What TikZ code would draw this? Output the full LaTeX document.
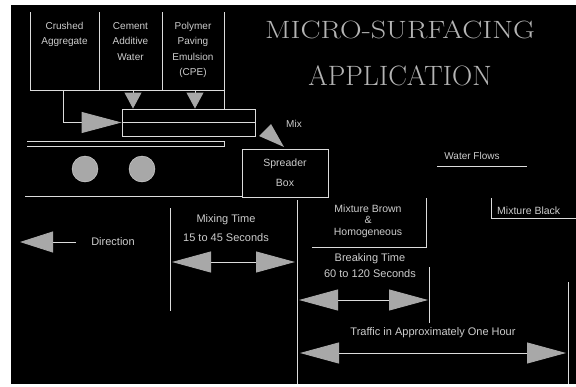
\documentclass[tikz,border=0pt]{standalone}
\usepackage{fontspec}
\setsansfont{Liberation Sans}
\usetikzlibrary{arrows.meta,calc}
\definecolor{ink}{RGB}{220,220,220}
\definecolor{txtgray}{RGB}{205,205,205}
\definecolor{headgray}{RGB}{168,168,168}
\definecolor{titlegray}{RGB}{180,180,180}
\tikzset{
	wire/.style={draw=ink,line width=0.9pt},
	lbl/.style={text=txtgray,font=\sffamily\fontsize{11}{19}\selectfont,align=center,inner sep=0pt},
	bintext/.style={text=txtgray,font=\sffamily\fontsize{10}{15.5}\selectfont,align=center,anchor=north,inner sep=0pt},
	bighead/.tip={Triangle[length=39pt,width=21pt,color=headgray]},
	timearrow/.style={wire,bighead-bighead},
	wheel/.style={circle,fill=headgray,draw=ink,line width=0.4pt,minimum size=26pt,inner sep=0pt},
}
\newcommand{\Bin}[4]{%
	\draw[wire] (#2,12) -- (#2,90) -- (#3,90) -- (#3,12);
	\pgfmathsetmacro{\XM}{(#2+#3)/2}%
	\node[bintext] (#1) at (\XM,22) {#4};%
}
\begin{document}
\begin{tikzpicture}[x=1pt,y=-1pt]
	% fond
	\fill[white] (0,0) rectangle (576,386);
	\fill[black] (11,5) rectangle (576,384);
	\useasboundingbox (0,0) rectangle (576,386);

	% titre
	\node[text=titlegray,font=\fontsize{25}{28}\selectfont,inner sep=0pt,xscale=1.2] (title) at (400,30) {MICRO-SURFACING};
	\node[text=titlegray,font=\fontsize{28}{30}\selectfont,inner sep=0pt] (title2) at (400,76) {APPLICATION};

	% --- tremies ---
	\Bin{agg}{30}{99}{Crushed\\Aggregate}
	\Bin{cem}{99}{162}{Cement\\Additive\\Water}
	\Bin{emu}{162}{224}{Polymer\\Paving\\Emulsion\\(CPE)}

	% malaxeur
	\node[wire,minimum width=133pt,minimum height=27pt,inner sep=0pt] (pug) at (188.5,122.5) {};
	\draw[wire] (pug.west) -- (pug.east);
	\coordinate (aggout) at (63,90);
	\coordinate (cemout) at (133,90);
	\coordinate (emuout) at (195,90);
	\coordinate (binedge) at (224,90);
	\draw[wire,-{Triangle[length=40pt,width=21pt,color=headgray]}] (aggout) |- (pug.west);
	\draw[wire,-{Triangle[length=16pt,width=17pt,color=headgray]}] (cemout) -- (cemout |- pug.north);
	\draw[wire,-{Triangle[length=16pt,width=17pt,color=headgray]}] (emuout) -- (emuout |- pug.north);
	\draw[wire] (binedge) -- (binedge |- pug.north);

	% melange
	\fill[headgray] (259,136) -- (271,124) -- (284,147) -- cycle;
	\node[lbl,font=\sffamily\fontsize{10}{11}\selectfont,anchor=west] (mix) at (286,124) {Mix};

	% chassis et roues
	\coordinate (frameL) at (27,141);
	\coordinate (frameR) at (224,141);
	\draw[wire] (frameL) -- (frameR) -- ++(0,5) -- ($(frameL)+(0,5)$);
	\node[wheel] (w1) at (85,169) {};
	\node[wheel] (w2) at (142,169) {};

	% boite d'epandage
	\node[wire,minimum width=86pt,minimum height=48pt,inner sep=0pt] (spread) at (285,173) {};
	\node[lbl,font=\sffamily\fontsize{10.5}{20}\selectfont] (spreadtxt) at (spread.center) {Spreader\\Box};
	\coordinate (road) at (25,196);
	\draw[wire] (road) -- (road -| spread.west);

	% eau
	\node[lbl,font=\sffamily\fontsize{10}{12}\selectfont] (water) at (472,156) {Water Flows};
	\draw[wire,line width=0.6pt] (437,166) -- (527,166);

	% direction
	\coordinate (dirA) at (76,242);
	\coordinate (dirB) at (20,242);
	\draw[wire,-{Triangle[length=33pt,width=21pt,color=headgray]}] (dirA) -- (dirB);
	\node[lbl] (dir) at (113,242) {Direction};

	% --- echelle des temps ---
	\coordinate (m0) at (170,208);
	\coordinate (m1) at (297,200);
	\coordinate (b1) at (429,267);
	\coordinate (t1) at (568,282);
	\draw[wire] (m0) -- ++(0,103);
	\draw[wire] (m1) -- (297,384);
	\draw[wire] (b1) -- ++(0,56);
	\draw[wire] (t1) -- (568,384);

	\node[lbl] (mixtime) at (226,228.5) {Mixing Time\\15 to 45 Seconds};
	\draw[timearrow] (172,262) -- (295,262);

	\node[lbl,font=\sffamily\fontsize{11}{16}\selectfont] (breaktime) at (370,266) {Breaking Time\\60 to 120 Seconds};
	\draw[timearrow] (299,300) -- (428,300);

	\node[lbl] (traffic) at (433,333) {Traffic in Approximately One Hour};
	\draw[timearrow] (300,353) -- (566,353);

	% etats du melange
	\draw[wire] (426,198) -- (426,247) -- (312,247);
	\node[lbl,font=\sffamily\fontsize{10.5}{11.5}\selectfont] (brown) at (368,221) {Mixture Brown\\\&\\Homogeneous};
	\draw[wire] (491,198) -- (491,218) -- (576,218);
	\node[lbl,font=\sffamily\fontsize{10.5}{12}\selectfont,anchor=west] (black) at (497,211) {Mixture Black};
\end{tikzpicture}
\end{document}
